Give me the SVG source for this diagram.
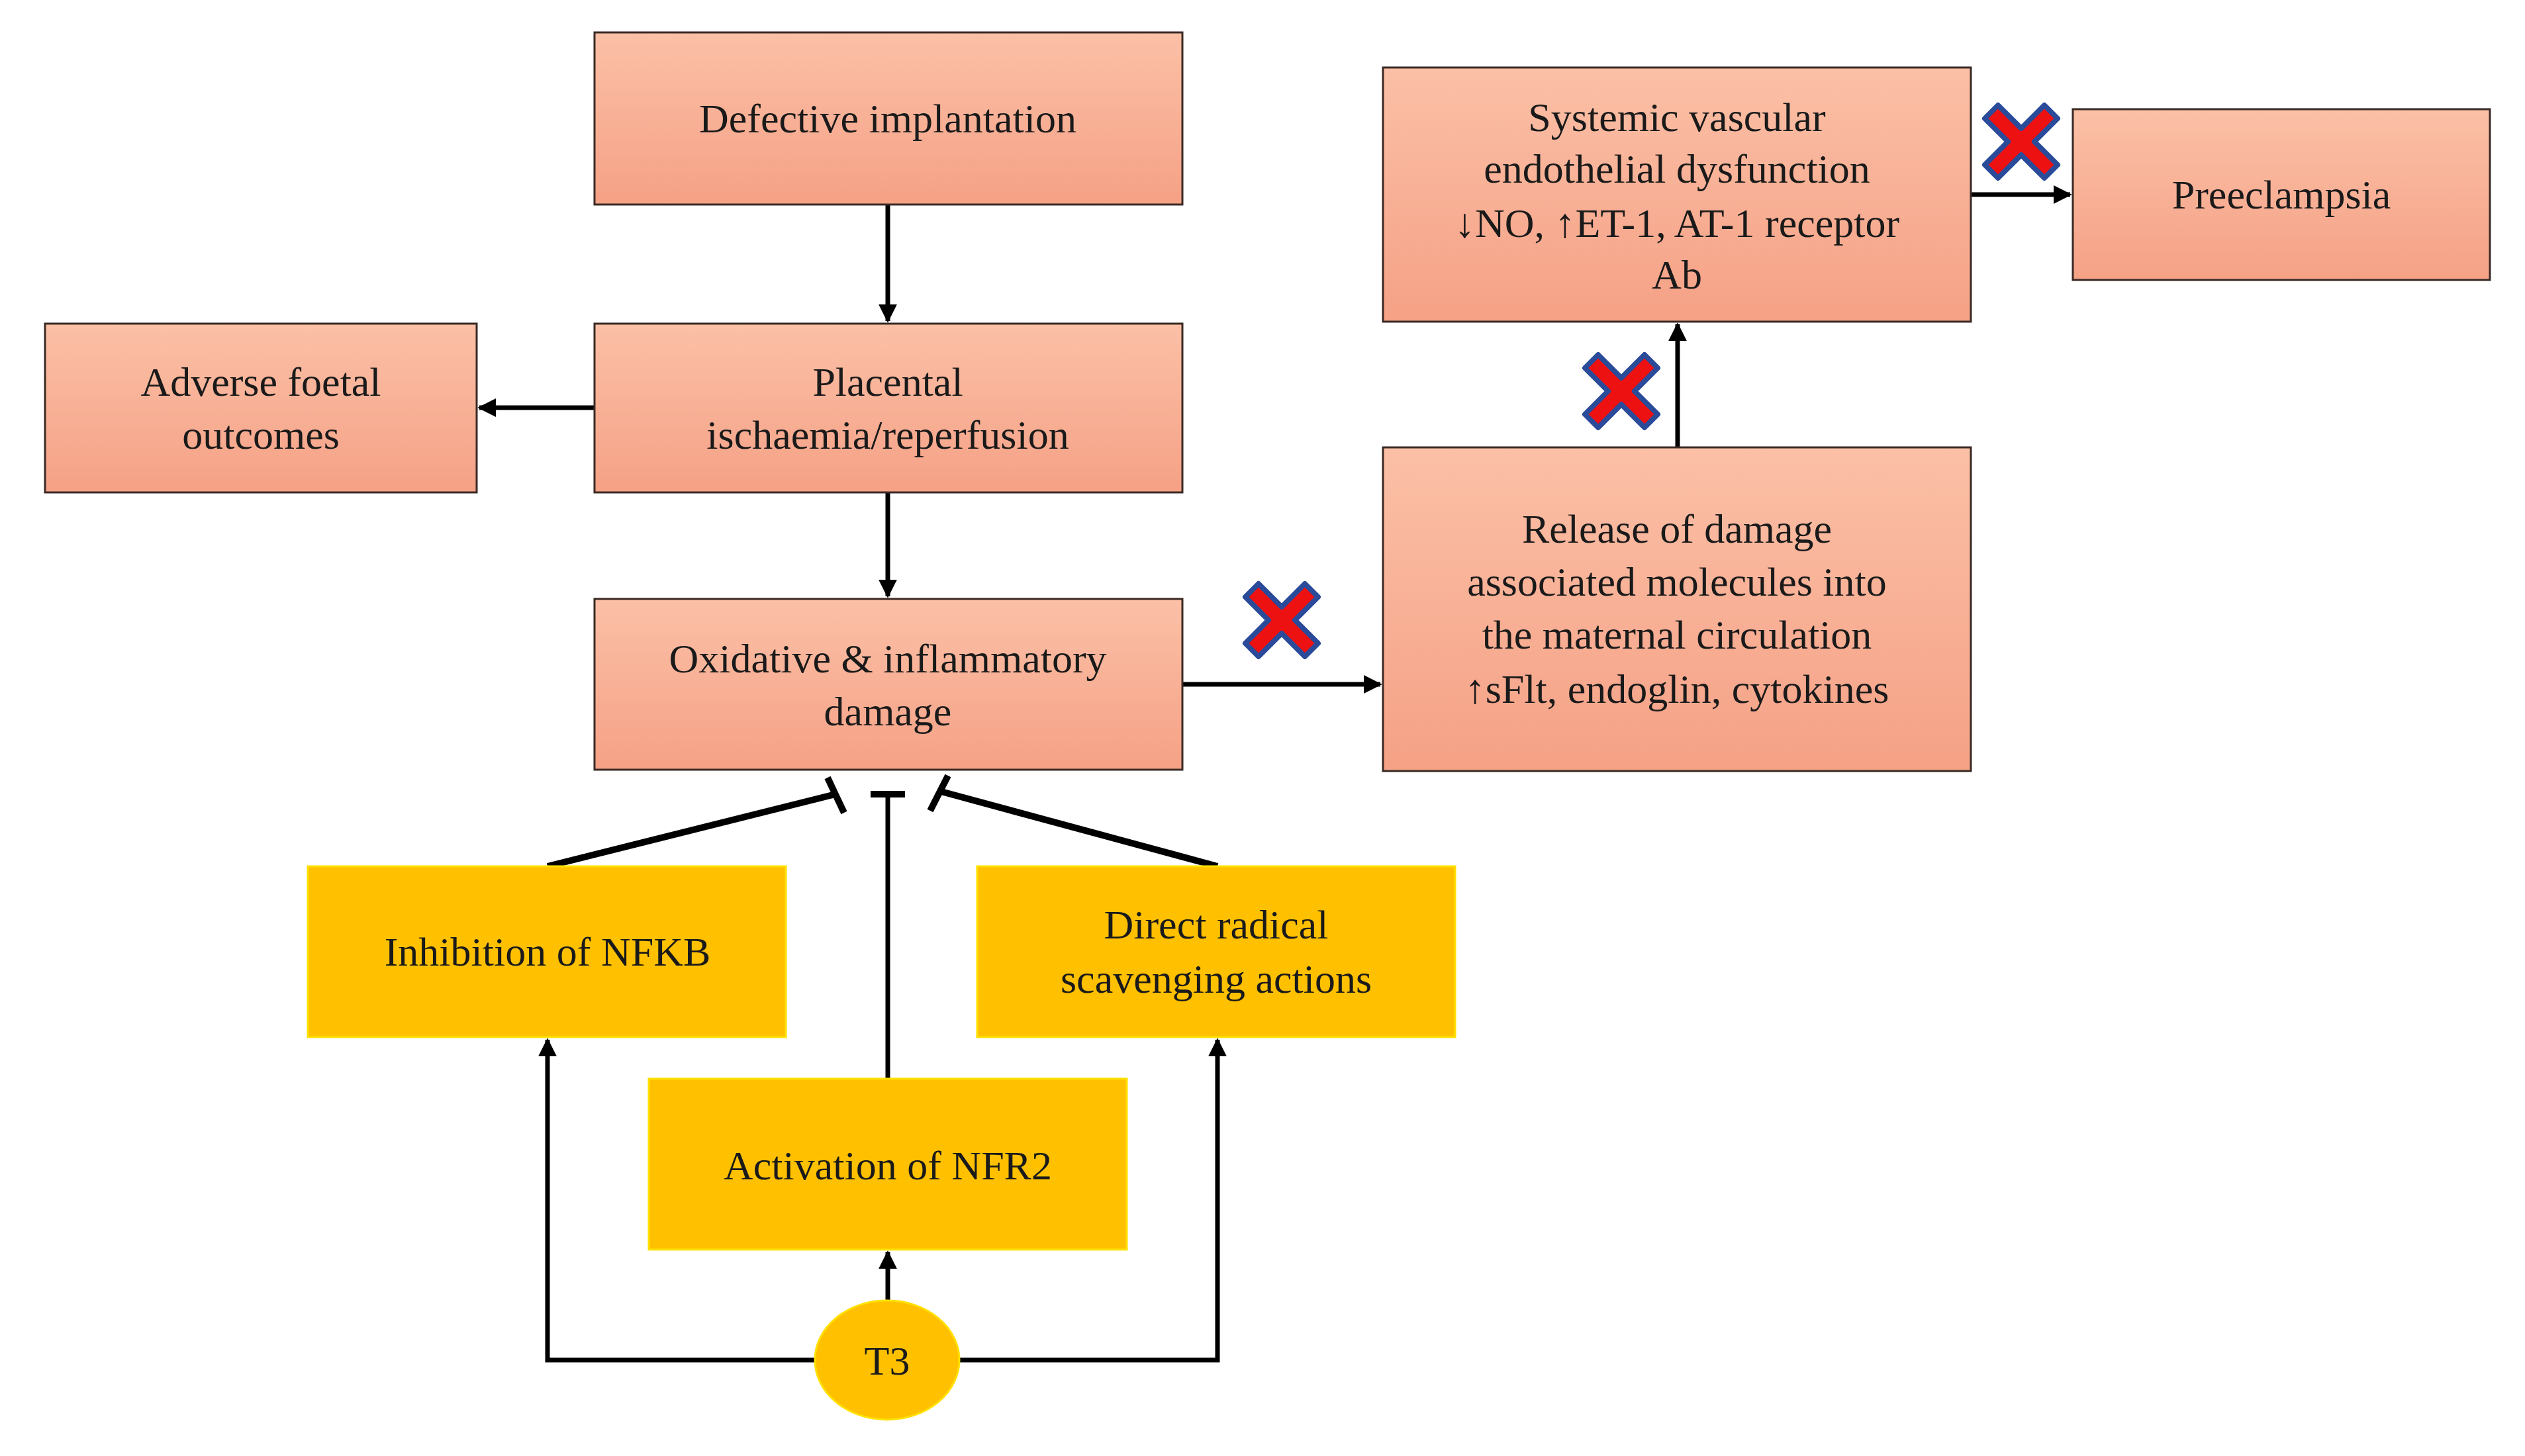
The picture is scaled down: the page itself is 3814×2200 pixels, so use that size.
<svg xmlns="http://www.w3.org/2000/svg" width="3814" height="2200" viewBox="0 0 3814 2200">
<style>
.s{fill:url(#g);stroke:#3a2a25;stroke-width:3}
.y{fill:#ffc000;stroke:#ffe000;stroke-width:3}
text{font-family:"Liberation Serif",serif;font-size:62px;fill:#1a1a1a;text-anchor:middle}
.c{stroke:#000;stroke-width:7;fill:none}
.i{stroke:#000;stroke-width:10;fill:none}
</style>
<defs>
<linearGradient id="g" x1="0" y1="0" x2="0" y2="1"><stop offset="0" stop-color="#fbc0a6"/><stop offset="1" stop-color="#f5a186"/></linearGradient>
<marker id="a" viewBox="0 0 10 10" refX="9" refY="5" markerWidth="4" markerHeight="4" orient="auto"><path d="M0,0L10,5L0,10z" fill="#000"/></marker>
<path id="x" d="M-35,-55 L0,-20 L35,-55 L55,-35 L20,0 L55,35 L35,55 L0,20 L-35,55 L-55,35 L-20,0 L-55,-35Z" fill="#ee1111" stroke="#2a4a9a" stroke-width="8" stroke-linejoin="round"/>
</defs>
<rect width="3814" height="2200" fill="#fff"/>
<g id="connectors">
<line class="c" x1="1341" y1="309" x2="1341" y2="485" marker-end="url(#a)"/>
<line class="c" x1="1341" y1="744" x2="1341" y2="901" marker-end="url(#a)"/>
<line class="c" x1="898" y1="616" x2="724" y2="616" marker-end="url(#a)"/>
<line class="c" x1="1786" y1="1034" x2="2085" y2="1034" marker-end="url(#a)"/>
<line class="c" x1="2534" y1="676" x2="2534" y2="490" marker-end="url(#a)"/>
<line class="c" x1="2977" y1="294" x2="3127" y2="294" marker-end="url(#a)"/>
<line class="i" x1="827" y1="1309" x2="1262" y2="1200"/>
<line class="i" x1="1250" y1="1175" x2="1275" y2="1228"/>
<line class="c" x1="1341" y1="1630" x2="1341" y2="1200"/>
<line class="i" x1="1315" y1="1200" x2="1367" y2="1200"/>
<line class="i" x1="1839" y1="1309" x2="1418" y2="1195"/>
<line class="i" x1="1432" y1="1172" x2="1405" y2="1225"/>
<polyline class="c" points="1231,2055 827,2055 827,1571" marker-end="url(#a)"/>
<polyline class="c" points="1449,2055 1839,2055 1839,1571" marker-end="url(#a)"/>
<line class="c" x1="1341" y1="1965" x2="1341" y2="1892" marker-end="url(#a)"/>
<use href="#x" x="1936" y="937"/>
<use href="#x" x="2449" y="591"/>
<use href="#x" x="3053" y="214"/>
</g>
<g id="defective"><rect class="s" x="898" y="49" width="888" height="260"/><text x="1341" y="200">Defective implantation</text></g>
<g id="adverse"><rect class="s" x="68" y="489" width="652" height="255"/><text x="394" y="598">Adverse foetal</text><text x="394" y="678">outcomes</text></g>
<g id="placental"><rect class="s" x="898" y="489" width="888" height="255"/><text x="1341" y="598">Placental</text><text x="1341" y="678">ischaemia/reperfusion</text></g>
<g id="oxidative"><rect class="s" x="898" y="905" width="888" height="258"/><text x="1341" y="1016">Oxidative &amp; inflammatory</text><text x="1341" y="1096">damage</text></g>
<g id="systemic"><rect class="s" x="2089" y="102" width="888" height="384"/><text x="2533" y="198">Systemic vascular</text><text x="2533" y="276">endothelial dysfunction</text><text x="2533" y="358">↓NO, ↑ET-1, AT-1 receptor</text><text x="2533" y="436">Ab</text></g>
<g id="preeclampsia"><rect class="s" x="3131" y="165" width="630" height="258"/><text x="3446" y="315">Preeclampsia</text></g>
<g id="release"><rect class="s" x="2089" y="676" width="888" height="489"/><text x="2533" y="820">Release of damage</text><text x="2533" y="900">associated molecules into</text><text x="2533" y="980">the maternal circulation</text><text x="2533" y="1062">↑sFlt, endoglin, cytokines</text></g>
<g id="inhibition"><rect class="y" x="465" y="1309" width="722" height="258"/><text x="827" y="1459">Inhibition of NFKB</text></g>
<g id="direct"><rect class="y" x="1476" y="1309" width="722" height="258"/><text x="1837" y="1418">Direct radical</text><text x="1837" y="1500">scavenging actions</text></g>
<g id="activation"><rect class="y" x="980" y="1630" width="722" height="258"/><text x="1341" y="1782">Activation of NFR2</text></g>
<g id="t3"><ellipse cx="1340" cy="2055" rx="109" ry="90" fill="#ffc000" stroke="#ffe000" stroke-width="3"/><text x="1340" y="2077">T3</text></g>
</svg>
